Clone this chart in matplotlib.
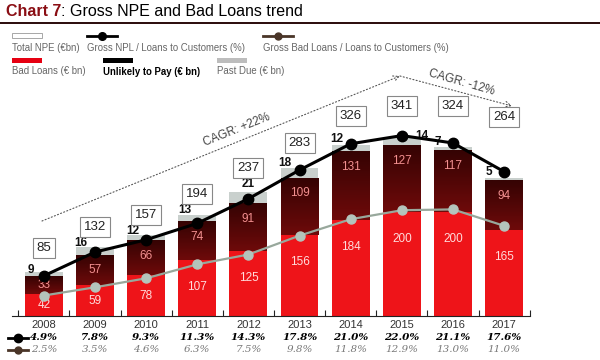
import matplotlib
matplotlib.use("Agg")
import matplotlib.pyplot as plt
import matplotlib.transforms as mtransforms
from matplotlib.patches import Rectangle
import numpy as np

plt.rcParams["font.family"] = ["Liberation Sans", "DejaVu Sans"]

# data
years = ["2008", "2009", "2010", "2011", "2012", "2013", "2014", "2015", "2016", "2017"]
bad_loans = [42, 59, 78, 107, 125, 156, 184, 200, 200, 165]
utp = [33, 57, 66, 74, 91, 109, 131, 127, 117, 94]
past_due = [9, 16, 12, 13, 21, 18, 12, 14, 7, 5]
total_npe = [85, 132, 157, 194, 237, 283, 326, 341, 324, 264]
npl_ratio = [4.9, 7.8, 9.3, 11.3, 14.3, 17.8, 21.0, 22.0, 21.1, 17.6]
bad_ratio = [2.5, 3.5, 4.6, 6.3, 7.5, 9.8, 11.8, 12.9, 13.0, 11.0]

RED = "#ee1419"
UTP_C = "#4a0606"
PD_C = "#c9d0cd"
BADLINE = "#98a89c"
BADMARK = "#b4c4bc"

fig = plt.figure(figsize=(6, 3.6), dpi=100)
# pixel overlay for free text
ov = fig.add_axes([0, 0, 1, 1], zorder=5)
ov.set_xlim(0, 600)
ov.set_ylim(360, 0)
ov.axis("off")
ov.patch.set_alpha(0)

ax = fig.add_axes([12 / 600, 44 / 360, 518 / 600, 256 / 360])
ax2 = ax.twinx()
x = np.arange(len(years))
px_per_x = 51.3
w = 38 / px_per_x

b = np.array(bad_loans)
u = np.array(utp)
p = np.array(past_due)
ax.bar(x, b, w, color=RED, zorder=2)
ax.bar(x, u, w, bottom=b, color=UTP_C, zorder=2)
ax.bar(x, p, w, bottom=b + u, color=PD_C, zorder=2)
# slight gradient on the dark segment
cm = matplotlib.colors.LinearSegmentedColormap.from_list("g", ["#6e0a0a", "#350303"])
for i in range(len(x)):
    grad = np.linspace(0, 1, 50).reshape(-1, 1)
    ax.imshow(grad, extent=(x[i] - w / 2, x[i] + w / 2, b[i], b[i] + u[i]),
              cmap=cm, aspect="auto", origin="lower", zorder=2.1)
ax.set_xlim(-32 / px_per_x, 9 + 26 / px_per_x)
ax.set_ylim(0, 256 / 0.522)
ax2.set_ylim(0, 256 / 8.2)

for s in ["top", "right", "left"]:
    ax.spines[s].set_visible(False)
    ax2.spines[s].set_visible(False)
ax2.spines["bottom"].set_visible(False)
ax.spines["bottom"].set_color("#222222")
ax.spines["bottom"].set_linewidth(0.8)
ax.set_yticks([])
ax2.set_yticks([])
ax.set_xticks(np.arange(-0.5, 10, 1.0))
ax.set_xticklabels([])
ax.tick_params(axis="x", direction="in", length=4, color="#222222", width=0.8)

# bar labels
for i in range(len(x)):
    yb = b[i] - 52 if b[i] > 104 else b[i] / 2
    ax.text(x[i], yb, str(bad_loans[i]), ha="center", va="center", color="#ffdcdc",
            fontsize=8.5, zorder=3)
    yu = b[i] + u[i] - 30 if u[i] > 60 else b[i] + u[i] / 2
    ax.text(x[i], yu, str(utp[i]), ha="center", va="center", color="#f39090",
            fontsize=8.5, zorder=3)

pd_dx = [-0.26, -0.28, -0.27, -0.25, 0, -0.28, -0.28, 0.4, -0.3, -0.3]
pd_dy = [2, 4, 4, 5, 8, 5, 6, 2, 5, 6]
for i in range(len(x)):
    ax.annotate(str(past_due[i]), (x[i] + pd_dx[i], b[i] + u[i] + p[i]),
                xytext=(0, pd_dy[i] * 0.72), textcoords="offset points",
                ha="center", va="center", fontsize=8.5, fontweight="bold",
                color="#111111", zorder=6)

box_dy = [24, 20, 20, 21, 24, 25, 29, 32, 41, 61]
for i in range(len(x)):
    ax.annotate(str(total_npe[i]), (x[i], b[i] + u[i] + p[i]),
                xytext=(0, box_dy[i] * 0.72), textcoords="offset points",
                ha="center", va="center", fontsize=9.5, color="#222222",
                bbox=dict(boxstyle="square,pad=0.3", fc="white", ec="#888888", lw=0.8),
                zorder=6)

# ratio lines
ax2.plot(x, bad_ratio, color=BADLINE, lw=1.6, marker="o", ms=6.5,
         mfc=BADMARK, mec=BADMARK, zorder=4)
ax2.plot(x, npl_ratio, color="black", lw=2.2, marker="o", ms=7.5,
         mfc="black", mec="black", zorder=5)
ax.set_zorder(1)
ax2.set_zorder(2)

# rows under the axis
bt = mtransforms.blended_transform_factory(ax.transData, ov.transData)
for i in range(len(x)):
    ov.text(x[i], 325, years[i], transform=bt, ha="center", va="center",
            fontsize=8, color="#333333")
    ov.text(x[i], 337.5, f"{npl_ratio[i]:.1f}%", transform=bt, ha="center", va="center",
            fontsize=7.5, color="black", family="DejaVu Serif", style="italic",
            fontweight="bold")
    ov.text(x[i], 349.5, f"{bad_ratio[i]:.1f}%", transform=bt, ha="center", va="center",
            fontsize=7.5, color="#777777", family="DejaVu Serif", style="italic")
ov.plot([8, 28], [337.5, 337.5], color="black", lw=2)
ov.plot([18], [337.5], "o", color="black", ms=6)
ov.plot([8, 28], [349.5, 349.5], color="#4a3528", lw=2)
ov.plot([18], [349.5], "o", color="#4a3528", ms=5)

# title
t1 = ov.text(6, 12, "Chart 7", fontsize=11.5, fontweight="bold", color="#8a0e14", va="center")
ov.annotate(": Gross NPE and Bad Loans trend", xy=(1, 0.5), xycoords=t1,
            fontsize=11.5, color="black", va="center", ha="left")
ov.plot([0, 600], [23, 23], color="#2a0a0a", lw=1.4)

# legend
fs = 6.9
ov.add_patch(Rectangle((12, 33), 30, 5, fc="white", ec="#999999", lw=0.6))
ov.text(12, 48, "Total NPE (€bn)", fontsize=fs, color="#666666", va="center")
ov.plot([87, 117], [36, 36], color="black", lw=2)
ov.plot([102], [36], "o", color="black", ms=5.5)
ov.text(87, 48, "Gross NPL / Loans to Customers (%)", fontsize=fs, color="#666666", va="center")
ov.plot([263, 293], [36, 36], color="#4a3528", lw=2)
ov.plot([278], [36], "o", color="#4a3528", ms=5)
ov.text(263, 48, "Gross Bad Loans / Loans to Customers (%)", fontsize=fs, color="#666666",
        va="center")
ov.add_patch(Rectangle((12, 58), 30, 5, fc="#e60012", ec="none"))
ov.text(12, 71, "Bad Loans (€ bn)", fontsize=fs, color="#666666", va="center")
ov.add_patch(Rectangle((103, 58), 30, 5, fc="black", ec="none"))
ov.text(103, 72, "Unlikely to Pay (€ bn)", fontsize=fs, color="black", va="center",
        fontweight="bold")
ov.add_patch(Rectangle((217, 58), 30, 5, fc="#bdbdbd", ec="none"))
ov.text(217, 71, "Past Due (€ bn)", fontsize=fs, color="#666666", va="center")

# CAGR arrows
ov.annotate("", xy=(400, 76), xytext=(42, 221),
            arrowprops=dict(arrowstyle="->", color="#555555", lw=0.8, ls=(0, (1, 2)),
                            shrinkA=0, shrinkB=0))
ov.text(237, 130, "CAGR: +22%", rotation=22, fontsize=8.5, color="#444444",
        ha="center", va="center")
ov.annotate("", xy=(512, 106), xytext=(400, 76),
            arrowprops=dict(arrowstyle="->", color="#555555", lw=0.8, ls=(0, (1, 2)),
                            shrinkA=0, shrinkB=0))
ov.text(462, 82, "CAGR: -12%", rotation=-16, fontsize=8.5, color="#444444",
        ha="center", va="center")

fig.savefig("out.png", dpi=100)
